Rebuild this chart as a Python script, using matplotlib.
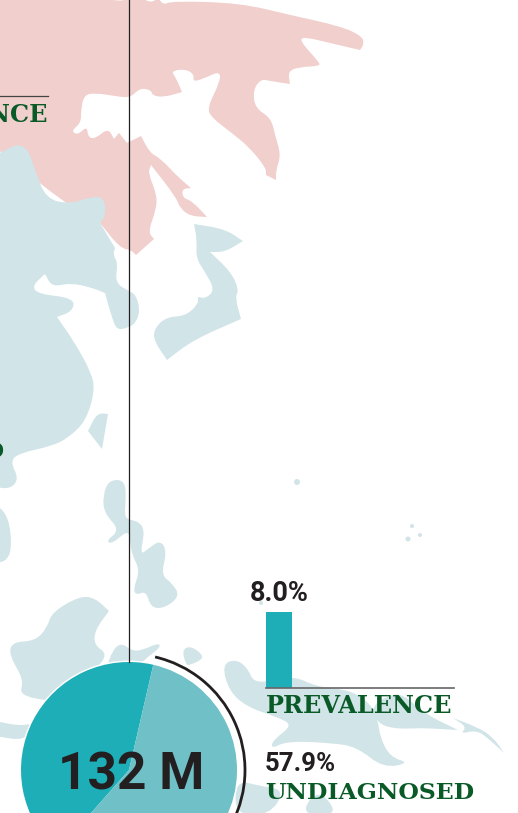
import numpy as np
import matplotlib.pyplot as plt
from matplotlib.path import Path
from matplotlib.patches import PathPatch, Wedge, Arc, Circle

# values
total_label = "132 M"
undiagnosed = 57.9
prevalence = 8.0

# land outlines in pixels; a doubled point is a sharp corner
pink_land = [(-5,-5),(-5,-5),(105,-5),(110,0),(125,1),(135,-5),(141,-2),(152,3),(158,-3),(163,5),(172,1),(240,3),(290,15),(340,26),(362,36),(364,44),
    (360,50),(360,50),(330,43),(305,37),(299,40),(319,62),(320,66),(300,67),(288,71),(290,84),(290,84),(270,81),(261,79),(253,90),(255,108),(271,118),(275,135),
    (281,155),(276,170),(276,180),(276,180),(266,175),(266,175),(266,168),(250,148),(232,133),(212,118),(207,108),(220,82),(220,71),(205,78),(193,82),
    (194,74),(185,69),(171,71),(176,78),(182,92),(182,92),(165,97),(153,96),(151,90),(140,88),(130,98),(115,96),(95,93),(84,95),(81,110),(81,123),
    (71,131),(78,135),(87,126),(88,137),(95,139),(108,128),(114,139),(114,139),(119,133),(119,133),(127,143),(127,143),(141,136),(141,136),(150,153),(160,158),(178,177),
    (191,188),(191,188),(182,189),(183,198),(192,201),(207,217),(207,217),(190,216),(180,208),(176,197),(151,165),(151,165),(148,173),(157,195),(156,210),(148,232),
    (154,239),(154,239),(136,255),(136,255),(131,250),(120,248),(100,223),(100,223),(60,200),(0,150),(-5,150),(-5,-5)]
blue_mainland = [(-5,155),(-5,155),(4,151),(17,144),(28,149),(35,170),(46,199),(70,204),(90,197),(104,197),(106,215),(100,223),(100,223),(115,248),(115,248),(113,255),(118,263),(115,283),(129,291),
    (136,295),(140,310),(136,323),(127,328),(117,330),(112,318),(105,293),(105,293),(90,287),(70,283),(52,287),(45,274),(45,274),(32,286),(38,294),(74,298),(73,311),(57,317),(57,317),
    (75,343),(91,372),(95,390),(86,421),(68,438),(52,446),(20,453),(10,461),(19,479),(10,489),(-5,487),(-5,487)]
blue_kamchatka = [(194,224),(194,224),(225,229),(243,241),(243,241),(225,252),(210,252),(210,252),(231,272),(239,290),(235,297),(241,319),(241,319),(193,340),(167,360),(167,360),
    (154,341),(154,329),(166,317),(186,316),(199,303),(197,296),(205,299),(215,290),(205,272),(196,258),(197,240)]
blue_taiwan = [(88,431),(88,431),(97,413),(108,414),(108,414),(102,449),(102,449)]
blue_philippines = [(125,480),(109,480),(103,495),(104,513),(120,530),(106,541),(112,544),(128,530),(130,540),(132,555),(140,570),(133,590),(137,595),(146,591),(151,608),
    (165,608),(180,596),(172,583),(161,575),(167,551),(160,540),(148,549),(140,555),(145,530),(138,521),(124,519),(126,500)]
blue_borneo = [(109,611),(109,611),(95,598),(80,596),(52,612),(47,628),(35,641),(12,642),(9,655),(24,680),(19,695),(48,701),(80,703),(95,670),(108,654),(94,645),(95,630)]
blue_sulawesi = [(105,672),(113,649),(122,643),(132,651),(143,650),(158,643),(161,647),(145,659),(135,670)]
blue_islet = [(182,650),(190,646),(201,653),(203,659),(190,665),(186,665)]
blue_left1 = [(-5,503),(-5,503),(9,517),(12,550),(5,562),(-5,562),(-5,562)]
blue_left2 = [(-5,721),(-5,721),(20,726),(33,723),(26,741),(-5,736),(-5,736)]
blue_guinea = [(222,665),(235,659),(247,667),(255,685),(292,675),(317,687),(350,690),(370,703),(378,720),(380,737),(390,757),(410,763),(383,768),(357,747),(332,743),
    (287,741),(271,749),(273,740),(293,725),(277,717),(247,707),(229,691)]
blue_britain = [(376,722),(393,729),(423,728),(440,729),(458,730),(458,730),(425,714),(403,694),(390,695),(372,705)]
blue_tail = [(453,718),(453,718),(477,727),(493,737),(504,753),(504,753),(490,740),(477,730),(460,734),(467,727)]
blue_south1 = [(236,780),(260,786),(285,790),(270,815),(235,815)]
blue_south2 = [(303,815),(310,797),(323,793),(338,815)]
blue_islets = [(297,482,3),(412,526,2),(408,539,2.5),(420,535,2),(261,603,2)]

pink = "#f0cfcd"
blue = "#d1e4e8"
teal = "#1eaeb8"
teal_light = "#70c0c8"
green = "#0a5a28"
ink = "#231f20"


def blob(points):
    # closed quadratic path through the midpoints of the points
    p = np.array(points, dtype=float)
    mid = (p + np.roll(p, -1, axis=0)) / 2
    verts = [mid[-1]]
    codes = [Path.MOVETO]
    for c, m in zip(p, mid):
        verts += [c, m]
        codes += [Path.CURVE3, Path.CURVE3]
    return Path(verts, codes)


fig = plt.figure(figsize=(5.18, 8.13), dpi=100)
ax = fig.add_axes([0, 0, 1, 1])
ax.set_xlim(0, 518)
ax.set_ylim(813, 0)
ax.axis("off")

ax.add_patch(PathPatch(blob(pink_land), fc=pink, ec="none"))
for shape in [blue_mainland, blue_kamchatka, blue_taiwan, blue_philippines, blue_borneo, blue_sulawesi,
              blue_islet, blue_left1, blue_left2, blue_guinea, blue_britain, blue_tail, blue_south1, blue_south2]:
    ax.add_patch(PathPatch(blob(shape), fc=blue, ec="none"))
for x, y, r in blue_islets:
    ax.add_patch(Circle((x, y), r, fc=blue, ec="none"))

# leader lines
ax.plot([129.3, 129.3], [0, 662], color=ink, lw=0.9)
ax.plot([-2, 48], [96.5, 96.5], color="#444444", lw=0.9)

# pie, starts 13 degrees past the top and runs clockwise
cx, cy, r = 129, 770, 108
start = -90 + 13
sweep = undiagnosed * 3.6
ax.add_patch(Circle((cx, cy), r + 1.5, fc="white", ec="none"))
ax.add_patch(Wedge((cx, cy), r, start + sweep, start + 360, fc=teal, ec="none"))
ax.add_patch(Wedge((cx, cy), r, start, start + sweep, fc=teal_light, ec="none"))
ax.add_patch(Arc((cx, cy), 232, 232, theta1=start, theta2=start + sweep, color=ink, lw=2))

# bar
ax.bar(279, prevalence * 9.5, width=26, bottom=687.5 - prevalence * 9.5, color=teal, zorder=3)
ax.plot([266, 454], [688, 688], color="#666666", lw=1.2, zorder=3)

sans = dict(family="Roboto", weight="bold", color=ink, zorder=5)
slab = dict(family="DejaVu Serif", weight="bold", color=green, zorder=5)
ax.text(131, 789, total_label, fontsize=37, ha="center", va="baseline", **sans)
ax.text(250, 601, "8.0%", fontsize=19.5, ha="left", va="baseline", **sans)
ax.text(265, 771, "57.9%", fontsize=18.5, ha="left", va="baseline", **sans)
ax.text(266, 713, "PREVALENCE", fontsize=17.3, ha="left", va="baseline", **slab)
ax.text(265, 799, "UNDIAGNOSED", fontsize=16.9, ha="left", va="baseline", **slab)
ax.text(48, 122, "PREVALENCE", fontsize=17.3, ha="right", va="baseline", **slab)
ax.text(4, 458, "UNDIAGNOSED", fontsize=16.9, ha="right", va="baseline", **slab)

fig.savefig("out.png", dpi=100)
